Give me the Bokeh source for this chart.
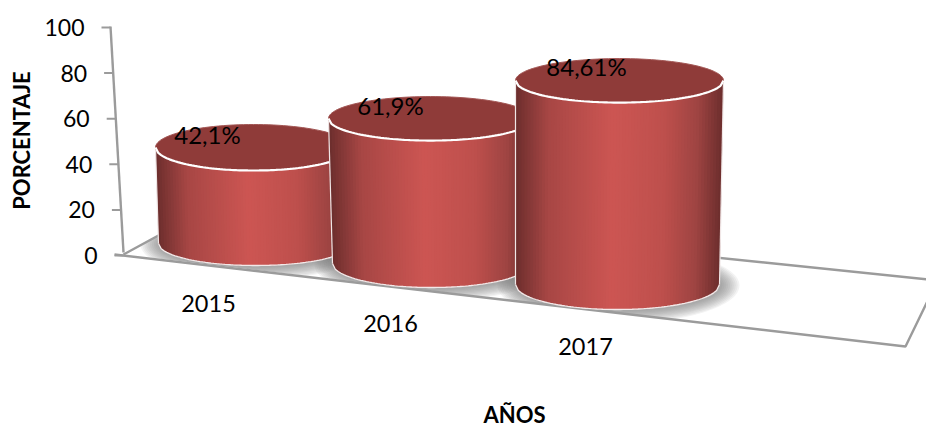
import numpy as np
from bokeh.plotting import figure
from bokeh.models import Range1d
from bokeh.core.properties import value
from bokeh.embed import file_html
from bokeh.resources import INLINE

# ---- data
years = ["2015", "2016", "2017"]
percent = [42.1, 61.9, 84.61]
percent_labels = ["42,1%", "61,9%", "84,61%"]
ticks = [0, 20, 40, 60, 80, 100]

# ---- perspective geometry of the 3D scene (page pixels)
PX_PER_UNIT = 2.28
BASE_PY = 255.0
def vy(py):
    return (BASE_PY - np.asarray(py, dtype=float)) / PX_PER_UNIT

base_cx = [255, 431, 617]
base_a = [97, 99, 102]
base_py = [243, 263, 284]
base_hh = [22, 24, 25]
top_cx = [253, 430, 619]
top_a = [98, 102, 104]
top_hh = [23, 22, 22]
depth_scale = [1.0, 1.027, 1.057]
year_pos = [(208, 303), (390, 323), (585, 346)]
label_pos = [(207, 134), (390, 105), (586, 66)]

FONT = "Lato"
GRAY = "#9b9b9b"
TEXT = "#000000"

p = figure(width=926, height=427, output_backend="svg", toolbar_location=None,
           x_range=Range1d(0, 926), y_range=Range1d(vy(427), vy(0)),
           min_border=0, min_border_left=0, min_border_right=0,
           min_border_top=0, min_border_bottom=0)
p.xaxis.visible = False
p.yaxis.visible = False
p.grid.visible = False
p.outline_line_color = None
p.background_fill_color = "white"
p.border_fill_color = "white"

# ---- soft shadows on the floor
for i in range(3):
    for k in range(10, 0, -1):
        p.ellipse(x=[base_cx[i] + 1], y=[vy(base_py[i] + 1)],
                  width=2 * (base_a[i] + k * 1.9),
                  height=2 * (base_hh[i] + k * 1.3) / PX_PER_UNIT,
                  fill_color="#707070", fill_alpha=0.085, line_color=None)

# ---- white mask outside the floor
p.patch([0, 123, 905, 926, 926, 0], vy([254, 254, 346, 303, 427, 427]),
        fill_color="white", line_color=None)
p.patch([0, 123, 213, 0], vy([254, 254, 205, 205]), fill_color="white", line_color=None)

# ---- floor outline
p.line([114, 905, 937], vy([254, 346, 280]), line_color=GRAY, line_width=2.4)
p.line([123, 213, 937], vy([254, 205, 280]), line_color=GRAY, line_width=2.4)

# ---- value wall and its ticks
def wall_x(v):
    return 123 - 0.13 * v
p.line([wall_x(0), wall_x(100)], [vy(252), 100 + 1 / PX_PER_UNIT], line_color=GRAY, line_width=2.4)
for t in ticks:
    p.line([wall_x(t) - 9, wall_x(t)], [t, t], line_color=GRAY, line_width=2)
p.text(x=[wall_x(t) - 26 for t in ticks], y=ticks, text=[str(t) for t in ticks],
       text_font=value(FONT), text_font_size="23px", text_color=TEXT,
       text_align="right", text_baseline="middle")

# ---- cylinders, from back to front
stops_t = [0, 0.03, 0.16, 0.47, 0.72, 0.88, 0.97, 1]
stops_r = [0x6b, 0x78, 0xa8, 0xcd, 0xbe, 0x9e, 0x78, 0x6d]
stops_g = [0x2e, 0x33, 0x47, 0x56, 0x50, 0x44, 0x33, 0x2e]
stops_b = [0x2d, 0x32, 0x45, 0x53, 0x4d, 0x42, 0x32, 0x2d]
N = 70
u = np.linspace(-1, 1, N + 1)
circ = np.sqrt(np.clip(1 - u ** 2, 0, 1))
for i, pct in enumerate(percent):
    y_base = float(vy(base_py[i]))
    y_top = y_base + pct * depth_scale[i]
    hh_b = base_hh[i] / PX_PER_UNIT
    hh_t = top_hh[i] / PX_PER_UNIT
    xt = top_cx[i] + top_a[i] * u
    xb = base_cx[i] + base_a[i] * u
    yt = y_top - hh_t * circ
    yb = y_base - hh_b * circ
    xs, ys, cols = [], [], []
    for j in range(N):
        # each strip runs on under its right neighbour, so that no seams show
        e = min(j + 2, N)
        xs.append(list(xt[j:e + 1]) + list(xb[j:e + 1])[::-1])
        ys.append(list(yt[j:e + 1]) + list(yb[j:e + 1])[::-1])
        t = (j + 0.5) / N
        cols.append("#%02x%02x%02x" % (int(np.interp(t, stops_t, stops_r)),
                                       int(np.interp(t, stops_t, stops_g)),
                                       int(np.interp(t, stops_t, stops_b))))
    p.patches(xs, ys, fill_color=cols, line_color=None)
    # side and bottom rims
    p.line([xt[0], xb[0]], [y_top, y_base], line_color="#f0e6e6", line_width=1.2)
    p.line([xt[-1], xb[-1]], [y_top, y_base], line_color="#f0e6e6", line_width=1.2)
    p.line(xb, yb, line_color="#f3e9e9", line_width=1.3)
    # top cap
    th = np.linspace(0, 2 * np.pi, 121)
    p.patch(top_cx[i] + top_a[i] * np.cos(th), y_top + hh_t * np.sin(th),
            fill_color="#8f3b39", line_color="#a25654", line_width=1)
    p.line(xt, yt, line_color="white", line_width=2.2)

# ---- texts
p.text(x=[a for a, _ in label_pos], y=vy([b for _, b in label_pos]), text=percent_labels,
       text_font=value(FONT), text_font_size="24px", text_color=TEXT,
       text_align="center", text_baseline="middle")
p.text(x=[a for a, _ in year_pos], y=vy([b for _, b in year_pos]), text=years,
       text_font=value(FONT), text_font_size="23.5px", text_color=TEXT,
       text_align="center", text_baseline="middle")
p.text(x=[514], y=[float(vy(413.5))], text=["AÑOS"],
       text_font=value(FONT), text_font_size="22px", text_font_style="bold", text_color=TEXT,
       text_align="center", text_baseline="middle")
p.text(x=[21], y=[float(vy(140))], text=["PORCENTAJE"], angle=np.pi / 2,
       text_font=value(FONT), text_font_size="22px", text_font_style="bold", text_color=TEXT,
       text_align="center", text_baseline="middle")

open("out.html", "w").write(file_html(p, INLINE))
